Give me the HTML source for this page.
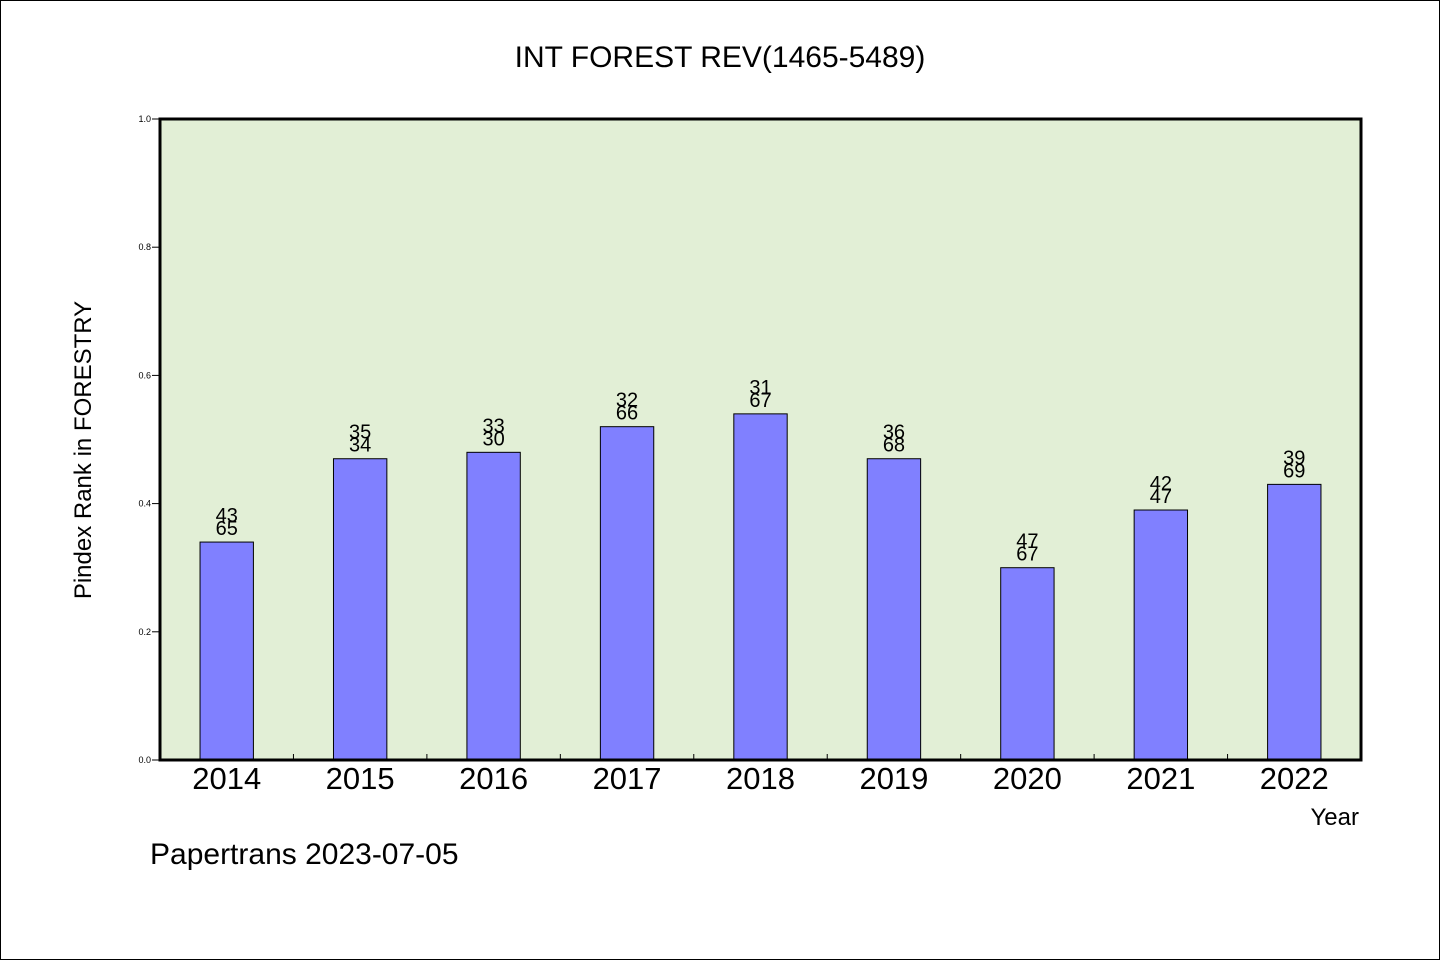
<!DOCTYPE html>
<html><head><meta charset="utf-8"><style>
html,body{margin:0;padding:0;background:#fff}
svg{display:block}
text{font-family:"WenQuanYi Zen Hei","Liberation Sans",sans-serif;fill:#000}
</style></head><body>
<svg id="chart" width="1440" height="960">
<rect x="0.5" y="0.5" width="1439" height="959" fill="#fff" stroke="#000"/>
<text x="720" y="67" font-size="30" text-anchor="middle">INT FOREST REV(1465-5489)</text>
<rect x="160" y="119" width="1201" height="641" fill="#e2efd6"/>
<g id="bars"></g>
<g id="axes"></g>
<rect x="160" y="119" width="1201" height="641" fill="none" stroke="#000" stroke-width="3"/>
<text x="91" y="450" font-size="24" text-anchor="middle" transform="rotate(-90 91 450)">Pindex Rank in FORESTRY</text>
<text x="1359" y="825" font-size="24" text-anchor="end">Year</text>
<text x="150" y="864" font-size="30">Papertrans 2023-07-05</text>
</svg>
<script>
const categories=["2014","2015","2016","2017","2018","2019","2020","2021","2022"];
const values=[0.34,0.47,0.48,0.52,0.54,0.47,0.30,0.39,0.43];
const topLabels=["43","35","33","32","31","36","47","42","39"];
const bottomLabels=["65","34","30","66","67","68","67","47","69"];
const yTicks=[0,0.2,0.4,0.6,0.8,1.0];
const X0=160,X1=1361,Y0=760,Y1=119;
const slot=(X1-X0)/categories.length;
const xc=i=>X0+slot*(i+0.5);
const y=v=>Y0-(Y0-Y1)*v;
const NS="http://www.w3.org/2000/svg";
const bars=document.getElementById('bars'),axes=document.getElementById('axes');
function mk(tag,attrs,parent,txt){const e=document.createElementNS(NS,tag);for(const k in attrs)e.setAttribute(k,attrs[k]);if(txt!==undefined)e.textContent=txt;parent.appendChild(e);return e;}
const bw=slot*0.4;
categories.forEach((c,i)=>{
  const r=mk('rect',{x:xc(i)-bw/2,y:y(values[i]),width:bw,height:Y0-y(values[i]),fill:'#8080ff',stroke:'#000','stroke-width':1},bars);
  
  
  const t1=mk('text',{x:xc(i),y:y(values[i])-20,'font-size':20,'text-anchor':'middle'},bars,topLabels[i]);
  
  
  const t2=mk('text',{x:xc(i),y:y(values[i])-7,'font-size':20,'text-anchor':'middle'},bars,bottomLabels[i]);
  
  
  const xl=mk('text',{x:xc(i),y:789,'font-size':31,'text-anchor':'middle','font-family':'Liberation Sans, sans-serif'},axes,c);
  
  
  if(i>0){const tk=mk('line',{x1:X0+slot*i,x2:X0+slot*i,y1:Y0,y2:Y0-6,stroke:'#000'},axes);
  
  }
});
yTicks.forEach(v=>{
  const tk=mk('line',{x1:X0-8,x2:X0,y1:y(v),y2:y(v),stroke:'#000'},axes);
  
  
  const tl=mk('text',{x:X0-9,y:y(v)+3,'font-size':9,'text-anchor':'end','font-family':'Liberation Sans, sans-serif'},axes,v.toFixed(1));
  
  
});
</script>
</body></html>
